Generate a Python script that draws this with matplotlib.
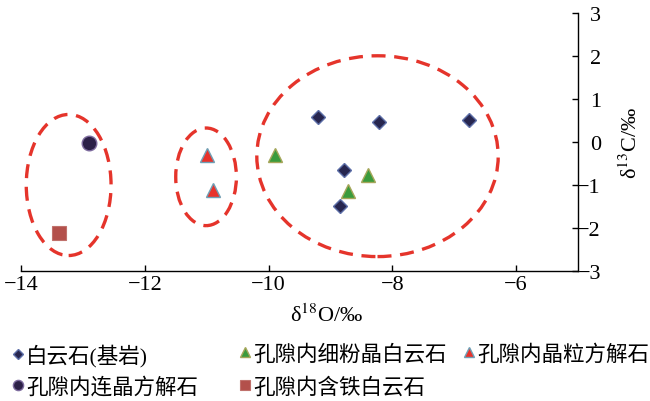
import matplotlib
matplotlib.use("Agg")
import matplotlib.pyplot as plt
from matplotlib.patches import Ellipse

plt.rcParams['font.family'] = ['Liberation Serif', 'Noto Sans CJK SC']
plt.rcParams['mathtext.fontset'] = 'stix'
plt.rcParams['axes.unicode_minus'] = True

# 白云石(基岩)
dolo_x = [-9.20, -8.22, -6.76, -8.78, -8.84]
dolo_y = [0.59, 0.47, 0.50, -0.65, -1.49]
# 孔隙内细粉晶白云石
fine_x = [-9.89, -8.40, -8.71]
fine_y = [-0.30, -0.77, -1.13]
# 孔隙内晶粒方解石
grain_x = [-11.00, -10.89]
grain_y = [-0.30, -1.12]
# 孔隙内连晶方解石
cont_x = [-12.90]
cont_y = [-0.03]
# 孔隙内含铁白云石
iron_x = [-13.39]
iron_y = [-2.12]

# dashed group outlines (center x, center y, width, height in data units)
ell_cx = [-13.23, -11.01, -8.24]
ell_cy = [-1.00, -0.81, -0.33]
ell_w = [1.37, 0.98, 3.90]
ell_h = [3.28, 2.27, 4.67]

x_ticks = [-14, -12, -10, -8, -6]
y_ticks = [-3, -2, -1, 0, 1, 2, 3]

fig = plt.figure(figsize=(6.5, 4.02), dpi=100)
ax = fig.add_axes([0.0323, 0.3234, 0.857, 0.6418])

for cx, cy, w, h in zip(ell_cx, ell_cy, ell_w, ell_h):
    ax.add_patch(Ellipse((cx, cy), w, h, fill=False, edgecolor='#e5342b',
                         linewidth=2.4, linestyle=(0, (4.2, 2.6))))

h1, = ax.plot(dolo_x, dolo_y, 'D', ms=7.4, mfc='#27264f', mec='#5d6fa8', mew=1.0, ls='none')
h2, = ax.plot(fine_x, fine_y, '^', ms=10.5, mfc='#3a9b3c', mec='#a6a65a', mew=1.0, ls='none')
h3, = ax.plot(grain_x, grain_y, '^', ms=10.5, mfc='#e8322b', mec='#6f9fb5', mew=1.0, ls='none')
h4, = ax.plot(cont_x, cont_y, 'o', ms=10.5, mfc='#2c2148', mec='#7d6b9e', mew=1.0, ls='none')
h5, = ax.plot(iron_x, iron_y, 's', ms=9.8, mfc='#b3504b', mec='#c0716c', mew=0.8, ls='none')

ax.set_xlim(-14, -5)
ax.set_ylim(-3, 3)
ax.set_xticks(x_ticks)
ax.set_yticks(y_ticks)
ax.spines['left'].set_visible(False)
ax.spines['top'].set_visible(False)
ax.spines['right'].set_linewidth(1.0)
ax.spines['bottom'].set_linewidth(1.0)
ax.yaxis.tick_right()
ax.yaxis.set_label_position('right')
ax.tick_params(direction='in', length=4, width=1, labelsize=16)
ax.tick_params(axis='x', pad=3)
ax.tick_params(axis='y', pad=16.5)
for t in ax.get_yticklabels():
    t.set_ha('right')

ax.set_xlabel(r'δ$^{18}$O/‰', fontsize=16)
ax.xaxis.label.set_va('center')
ax.xaxis.set_label_coords(0.549, -0.171)
ax.set_ylabel(r'δ$^{13}$C/‰', fontsize=16, rotation=90, labelpad=13)

# legend below the plot, placed entry by entry
leg_handles = [h1, h2, h3, h4, h5]
leg_labels = ['白云石(基岩)', '孔隙内细粉晶白云石', '孔隙内晶粒方解石',
              '孔隙内连晶方解石', '孔隙内含铁白云石']
leg_pos = [(18, 355.7), (245, 355.7), (469, 355.7), (18, 388), (245, 388)]
for h, lab, (px, py) in zip(leg_handles, leg_labels, leg_pos):
    fig.legend([h], [lab], loc='center left',
               bbox_to_anchor=((px - 6.2) / 650, 1 - py / 402),
               frameon=False, borderpad=0, borderaxespad=0,
               handlelength=0.55, handletextpad=0.12, markerscale=0.7,
               prop={'size': 15.5})

fig.savefig('out.png', dpi=100)
